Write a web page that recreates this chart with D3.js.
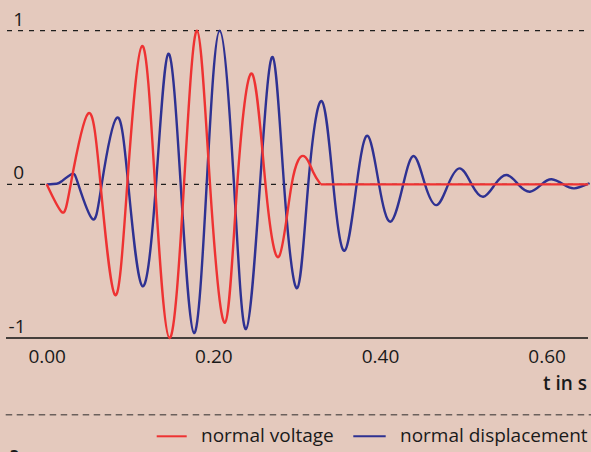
<!DOCTYPE html>
<html>
<head>
<meta charset="utf-8">
<script src="https://cdn.jsdelivr.net/npm/d3@7"></script>
<style>
  html, body { margin: 0; padding: 0; background: #e4c9bd; }
  svg { display: block; }
  text { font-family: "Open Sans", "Noto Sans", sans-serif; fill: #1a1a1a; }
</style>
</head>
<body>
<svg id="chart" width="591" height="452"></svg>
<script>
// ---- data ----
const voltageT = [0.000, 0.0180, 0.0288, 0.0496, 0.0646, 0.0820, 0.0967, 0.1144, 0.1300, 0.1474,
                  0.1648, 0.1804, 0.1960, 0.2140, 0.2287, 0.2464, 0.2626, 0.2788, 0.2940, 0.3088,
                  0.3196, 0.3288];
const voltageV = [0, -0.18, 0, 0.46, 0, -0.72, 0, 0.90, 0, -1.00,
                  0, 1.00, 0, -0.90, 0, 0.72, 0, -0.47, 0, 0.184,
                  0.082, 0];
const voltageRestT = [0.3288, 0.65];
const voltageRestV = [0, 0];

const displT = [0.000, 0.012, 0.018, 0.030, 0.0379, 0.0547, 0.0660, 0.0840, 0.0979, 0.1147,
                0.1312, 0.1459, 0.1608, 0.1768, 0.1920, 0.2076, 0.2248, 0.2392, 0.2560, 0.2712,
                0.2848, 0.3007, 0.3139, 0.3300, 0.3439, 0.3576, 0.3720, 0.3852, 0.3988, 0.4128,
                0.4279, 0.4408, 0.4540, 0.4680, 0.4819, 0.4960, 0.5100, 0.5239, 0.5380, 0.5520,
                0.5659, 0.5800, 0.5940, 0.6060, 0.6199, 0.6331, 0.6480, 0.650];
const displV = [0, 0.004, 0.02, 0.067, 0, -0.225, 0, 0.433, 0, -0.662,
                0, 0.850, 0, -0.968, 0, 1.00, 0, -0.942, 0, 0.829,
                0, -0.675, 0, 0.542, 0, -0.432, 0, 0.316, 0, -0.243,
                0, 0.184, 0, -0.135, 0, 0.104, 0, -0.081, 0, 0.061,
                0, -0.048, 0, 0.033, 0, -0.026, 0, 0.003];

const xTicks = [0, 0.2, 0.4, 0.6];
const yLabels = ["1", "0", "-1"];
const yLabelValues = [1, 0, -1];
const xTitle = "t in s";
const legendNames = ["normal voltage", "normal displacement"];
const colors = { voltage: "#ee3232", displ: "#2e3192" };

// ---- drawing ----
const svg = d3.select("#chart");
const W = 591, H = 452;
svg.append("rect").attr("width", W).attr("height", H).attr("fill", "#e4c9bd");

const x = d3.scaleLinear().domain([0, 0.65]).range([46.7, 588.3]);
const y = d3.scaleLinear().domain([-1, 1]).range([338, 30.7]);

const left = 7, right = 588;

// dashed reference lines at 1 and 0
svg.selectAll("line.grid").data([1, 0]).enter().append("line")
  .attr("class", "grid")
  .attr("x1", left).attr("x2", right)
  .attr("y1", d => y(d)).attr("y2", d => y(d))
  .attr("stroke", "#1e1e1e").attr("stroke-width", 1.2)
  .attr("stroke-dasharray", "5,6");

// solid baseline at -1
svg.append("line")
  .attr("x1", 6).attr("x2", right)
  .attr("y1", y(-1)).attr("y2", y(-1))
  .attr("stroke", "#111").attr("stroke-width", 1.6);

// y labels
svg.selectAll("text.ylab").data(yLabelValues).enter().append("text")
  .attr("class", "ylab")
  .attr("x", d => d < 0 ? 25.5 : 24)
  .attr("y", d => y(d) - 5.2)
  .attr("text-anchor", "end")
  .attr("font-size", 19)
  .text((d, i) => yLabels[i]);

// x axis tick labels via axis generator (no lines)
const xAxis = d3.axisBottom(x).tickValues(xTicks).tickFormat(d3.format(".2f")).tickSize(0).tickPadding(0);
const gx = svg.append("g").attr("transform", `translate(0,${y(-1)})`).call(xAxis);
gx.select(".domain").remove();
gx.selectAll("text")
  .attr("dy", null).attr("y", 25)
  .attr("font-size", 19)
  .attr("font-family", "'Open Sans', 'Noto Sans', sans-serif")
  .attr("fill", "#1a1a1a");

// x title
svg.append("text")
  .attr("x", 587).attr("y", 390)
  .attr("text-anchor", "end")
  .attr("font-size", 19).attr("font-weight", 600)
  .text(xTitle);

// curves
const zip = (ts, vs) => ts.map((t, i) => ({ t, v: vs[i] }));
const lineNat = d3.line().x(d => x(d.t)).y(d => y(d.v)).curve(d3.curveNatural);
const lineLin = d3.line().x(d => x(d.t)).y(d => y(d.v));

svg.append("path").datum(zip(displT, displV))
  .attr("d", lineNat).attr("fill", "none")
  .attr("stroke", colors.displ).attr("stroke-width", 2.4).attr("stroke-linejoin", "round");

svg.append("path").datum(zip(voltageRestT, voltageRestV))
  .attr("d", lineLin).attr("fill", "none")
  .attr("stroke", colors.voltage).attr("stroke-width", 2.4);

svg.append("path").datum(zip(voltageT, voltageV))
  .attr("d", lineNat).attr("fill", "none")
  .attr("stroke", colors.voltage).attr("stroke-width", 2.4).attr("stroke-linejoin", "round");

// bottom separator
svg.append("line")
  .attr("x1", 5.7).attr("x2", W)
  .attr("y1", 414.7).attr("y2", 414.7)
  .attr("stroke", "#6b605c").attr("stroke-width", 1.5)
  .attr("stroke-dasharray", "6.5,4.5");

// legend
const legend = [
  { name: legendNames[0], color: colors.voltage, x1: 156.7, x2: 186.7, tx: 201 },
  { name: legendNames[1], color: colors.displ, x1: 353.3, x2: 385.7, tx: 400 }
];
const lg = svg.selectAll("g.leg").data(legend).enter().append("g").attr("class", "leg");
lg.append("line")
  .attr("x1", d => d.x1).attr("x2", d => d.x2)
  .attr("y1", 436.3).attr("y2", 436.3)
  .attr("stroke", d => d.color).attr("stroke-width", 2);
lg.append("text")
  .attr("x", d => d.tx).attr("y", 441.7)
  .attr("font-size", 19)
  .text(d => d.name);

// cut-off caption glyph at the very bottom
svg.append("text").attr("x", 9).attr("y", 460)
  .attr("font-size", 17).attr("font-weight", "bold").text("a");
</script>
</body>
</html>
